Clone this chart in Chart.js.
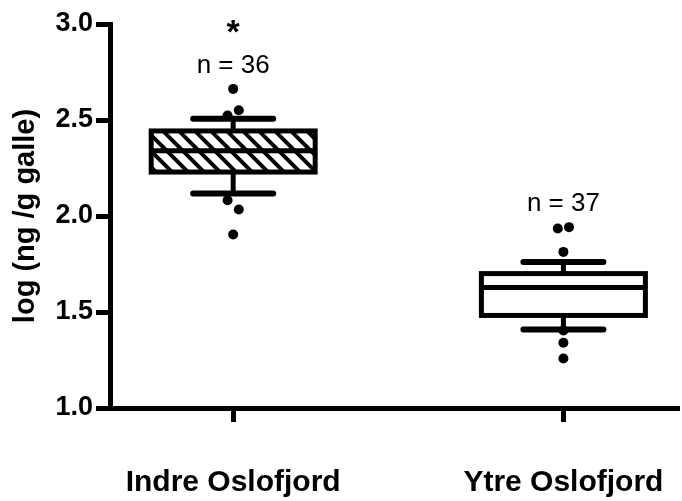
<!DOCTYPE html>
<html>
<head>
<meta charset="utf-8">
<script src="https://cdn.jsdelivr.net/npm/chart.js"></script>
<style>
  html, body { margin: 0; padding: 0; background: #fff; overflow: hidden; }
  #wrap { width: 682px; height: 501px; }
</style>
</head>
<body>
<div id="wrap"><canvas id="boxChart"></canvas></div>
<script>
const CATEGORIES = ['Indre Oslofjord', 'Ytre Oslofjord'];
const N_LABELS = ['n = 36', 'n = 37'];
const SIGNIF = ['*', ''];
const Q1 = [2.229, 1.482];
const MEDIAN = [2.340, 1.628];
const Q3 = [2.443, 1.700];
const WHISK_LO = [2.117, 1.409];
const WHISK_HI = [2.506, 1.761];
const OUTLIERS = [
  [2.662, 2.551, 2.523, 2.082, 2.034, 1.904],
  [1.942, 1.935, 1.813, 1.404, 1.340, 1.258]
];
const Y_TICKS = [1.0, 1.5, 2.0, 2.5, 3.0];

const FONT = '"Liberation Sans", Arial, Helvetica, sans-serif';

// diagonal hatch for the first box
function makeHatch() {
  const c = document.createElement('canvas');
  c.width = c.height = 16;
  const g = c.getContext('2d');
  g.fillStyle = '#fff';
  g.fillRect(0, 0, 16, 16);
  g.strokeStyle = '#000';
  g.lineWidth = 4;
  g.beginPath();
  [-16, 0, 16].forEach(o => { g.moveTo(o - 2, -2); g.lineTo(o + 18, 18); });
  g.stroke();
  return g.createPattern(c, 'repeat');
}

// points that nearly overlap get pushed sideways, alternating per pair
const outlierPoints = [];
OUTLIERS.forEach((vals, i) => {
  const sorted = [...vals].sort((a, b) => b - a);
  let side = 1;
  for (let k = 0; k < sorted.length; k++) {
    const v = sorted[k];
    if (k + 1 < sorted.length && v - sorted[k + 1] < 0.05) {
      outlierPoints.push({ x: i + 1 + side * 0.017, y: v });
      outlierPoints.push({ x: i + 1 - side * 0.017, y: sorted[k + 1] });
      side = -side;
      k++;
    } else {
      outlierPoints.push({ x: i + 1, y: v });
    }
  }
});

const boxPlugin = {
  id: 'boxes',
  afterDatasetsDraw(chart) {
    const { ctx, scales: { x, y } } = chart;
    const bars = chart.getDatasetMeta(0).data;
    const line = (x1, y1, x2, y2) => { ctx.beginPath(); ctx.moveTo(x1, y1); ctx.lineTo(x2, y2); ctx.stroke(); };
    ctx.save();
    ctx.strokeStyle = '#000';
    ctx.fillStyle = '#000';
    CATEGORIES.forEach((cat, i) => {
      const cx = bars[i].x;
      const half = bars[i].width / 2;
      const yQ1 = y.getPixelForValue(Q1[i]);
      const yQ3 = y.getPixelForValue(Q3[i]);
      const yMed = y.getPixelForValue(MEDIAN[i]);
      const yLo = y.getPixelForValue(WHISK_LO[i]);
      const yHi = y.getPixelForValue(WHISK_HI[i]);

      ctx.lineWidth = 5;
      ctx.lineCap = 'butt';
      line(cx, yQ3, cx, yHi);
      line(cx, yQ1, cx, yLo);
      ctx.strokeRect(cx - half, yQ3, half * 2, yQ1 - yQ3);
      line(cx - half, yMed, cx + half, yMed);

      ctx.lineWidth = 6;
      ctx.lineCap = 'round';
      line(cx - 40, yHi, cx + 40, yHi);
      line(cx - 40, yLo, cx + 40, yLo);

      // n labels and significance mark above the highest point
      const top = Math.max(WHISK_HI[i], ...OUTLIERS[i]);
      const yLab = y.getPixelForValue(top) - 16;
      ctx.textAlign = 'center';
      ctx.textBaseline = 'alphabetic';
      ctx.font = '26px ' + FONT;
      ctx.fillText(N_LABELS[i], cx, yLab);
      if (SIGNIF[i]) {
        ctx.font = 'bold 34px ' + FONT;
        ctx.fillText(SIGNIF[i], cx, yLab - 30);
      }
    });
    ctx.restore();
  }
};

new Chart(document.getElementById('boxChart'), {
  type: 'bar',
  data: {
    datasets: [
      {
        type: 'bar',
        data: CATEGORIES.map((c, i) => ({ x: i + 1, y: [Q1[i], Q3[i]] })),
        backgroundColor: [makeHatch(), '#fff'],
        borderWidth: 0,
        barThickness: 164
      },
      {
        type: 'scatter',
        data: outlierPoints,
        pointRadius: 5,
        pointBackgroundColor: '#000',
        pointBorderWidth: 0
      }
    ]
  },
  options: {
    responsive: true,
    maintainAspectRatio: false,
    animation: false,
    layout: { padding: { top: 24, right: 0, bottom: 0, left: 0 } },
    plugins: { legend: { display: false }, tooltip: { enabled: false } },
    scales: {
      x: {
        type: 'linear',
        min: 0.627,
        max: 2.344,
        offset: false,
        afterBuildTicks: s => { s.ticks = CATEGORIES.map((c, i) => ({ value: i + 1 })); },
        afterFit: s => { s.height = 93; s.paddingLeft = 0; s.paddingRight = 0; },
        border: { display: true, color: '#000', width: 5 },
        grid: { offset: false, drawOnChartArea: false, color: '#000', lineWidth: 5, tickLength: 14 },
        ticks: {
          color: '#000', padding: 43, maxRotation: 0, autoSkip: false,
          font: { family: FONT, size: 30, weight: 'bold' },
          callback: v => CATEGORIES[v - 1]
        }
      },
      y: {
        min: 1,
        max: 3,
        afterBuildTicks: s => { s.ticks = Y_TICKS.map(v => ({ value: v })); },
        afterFit: s => { s.width = 110; },
        border: { display: true, color: '#000', width: 5 },
        grid: { drawOnChartArea: false, color: '#000', lineWidth: 5, tickLength: 14 },
        ticks: {
          color: '#000', padding: 3,
          font: { family: FONT, size: 27, weight: 'bold' },
          callback: v => v.toFixed(1)
        },
        title: {
          display: true,
          text: 'log (ng /g galle)',
          color: '#000',
          font: { family: FONT, size: 29, weight: 'bold' },
          padding: { top: 9, bottom: 0 }
        }
      }
    }
  },
  plugins: [boxPlugin]
});
</script>
</body>
</html>
